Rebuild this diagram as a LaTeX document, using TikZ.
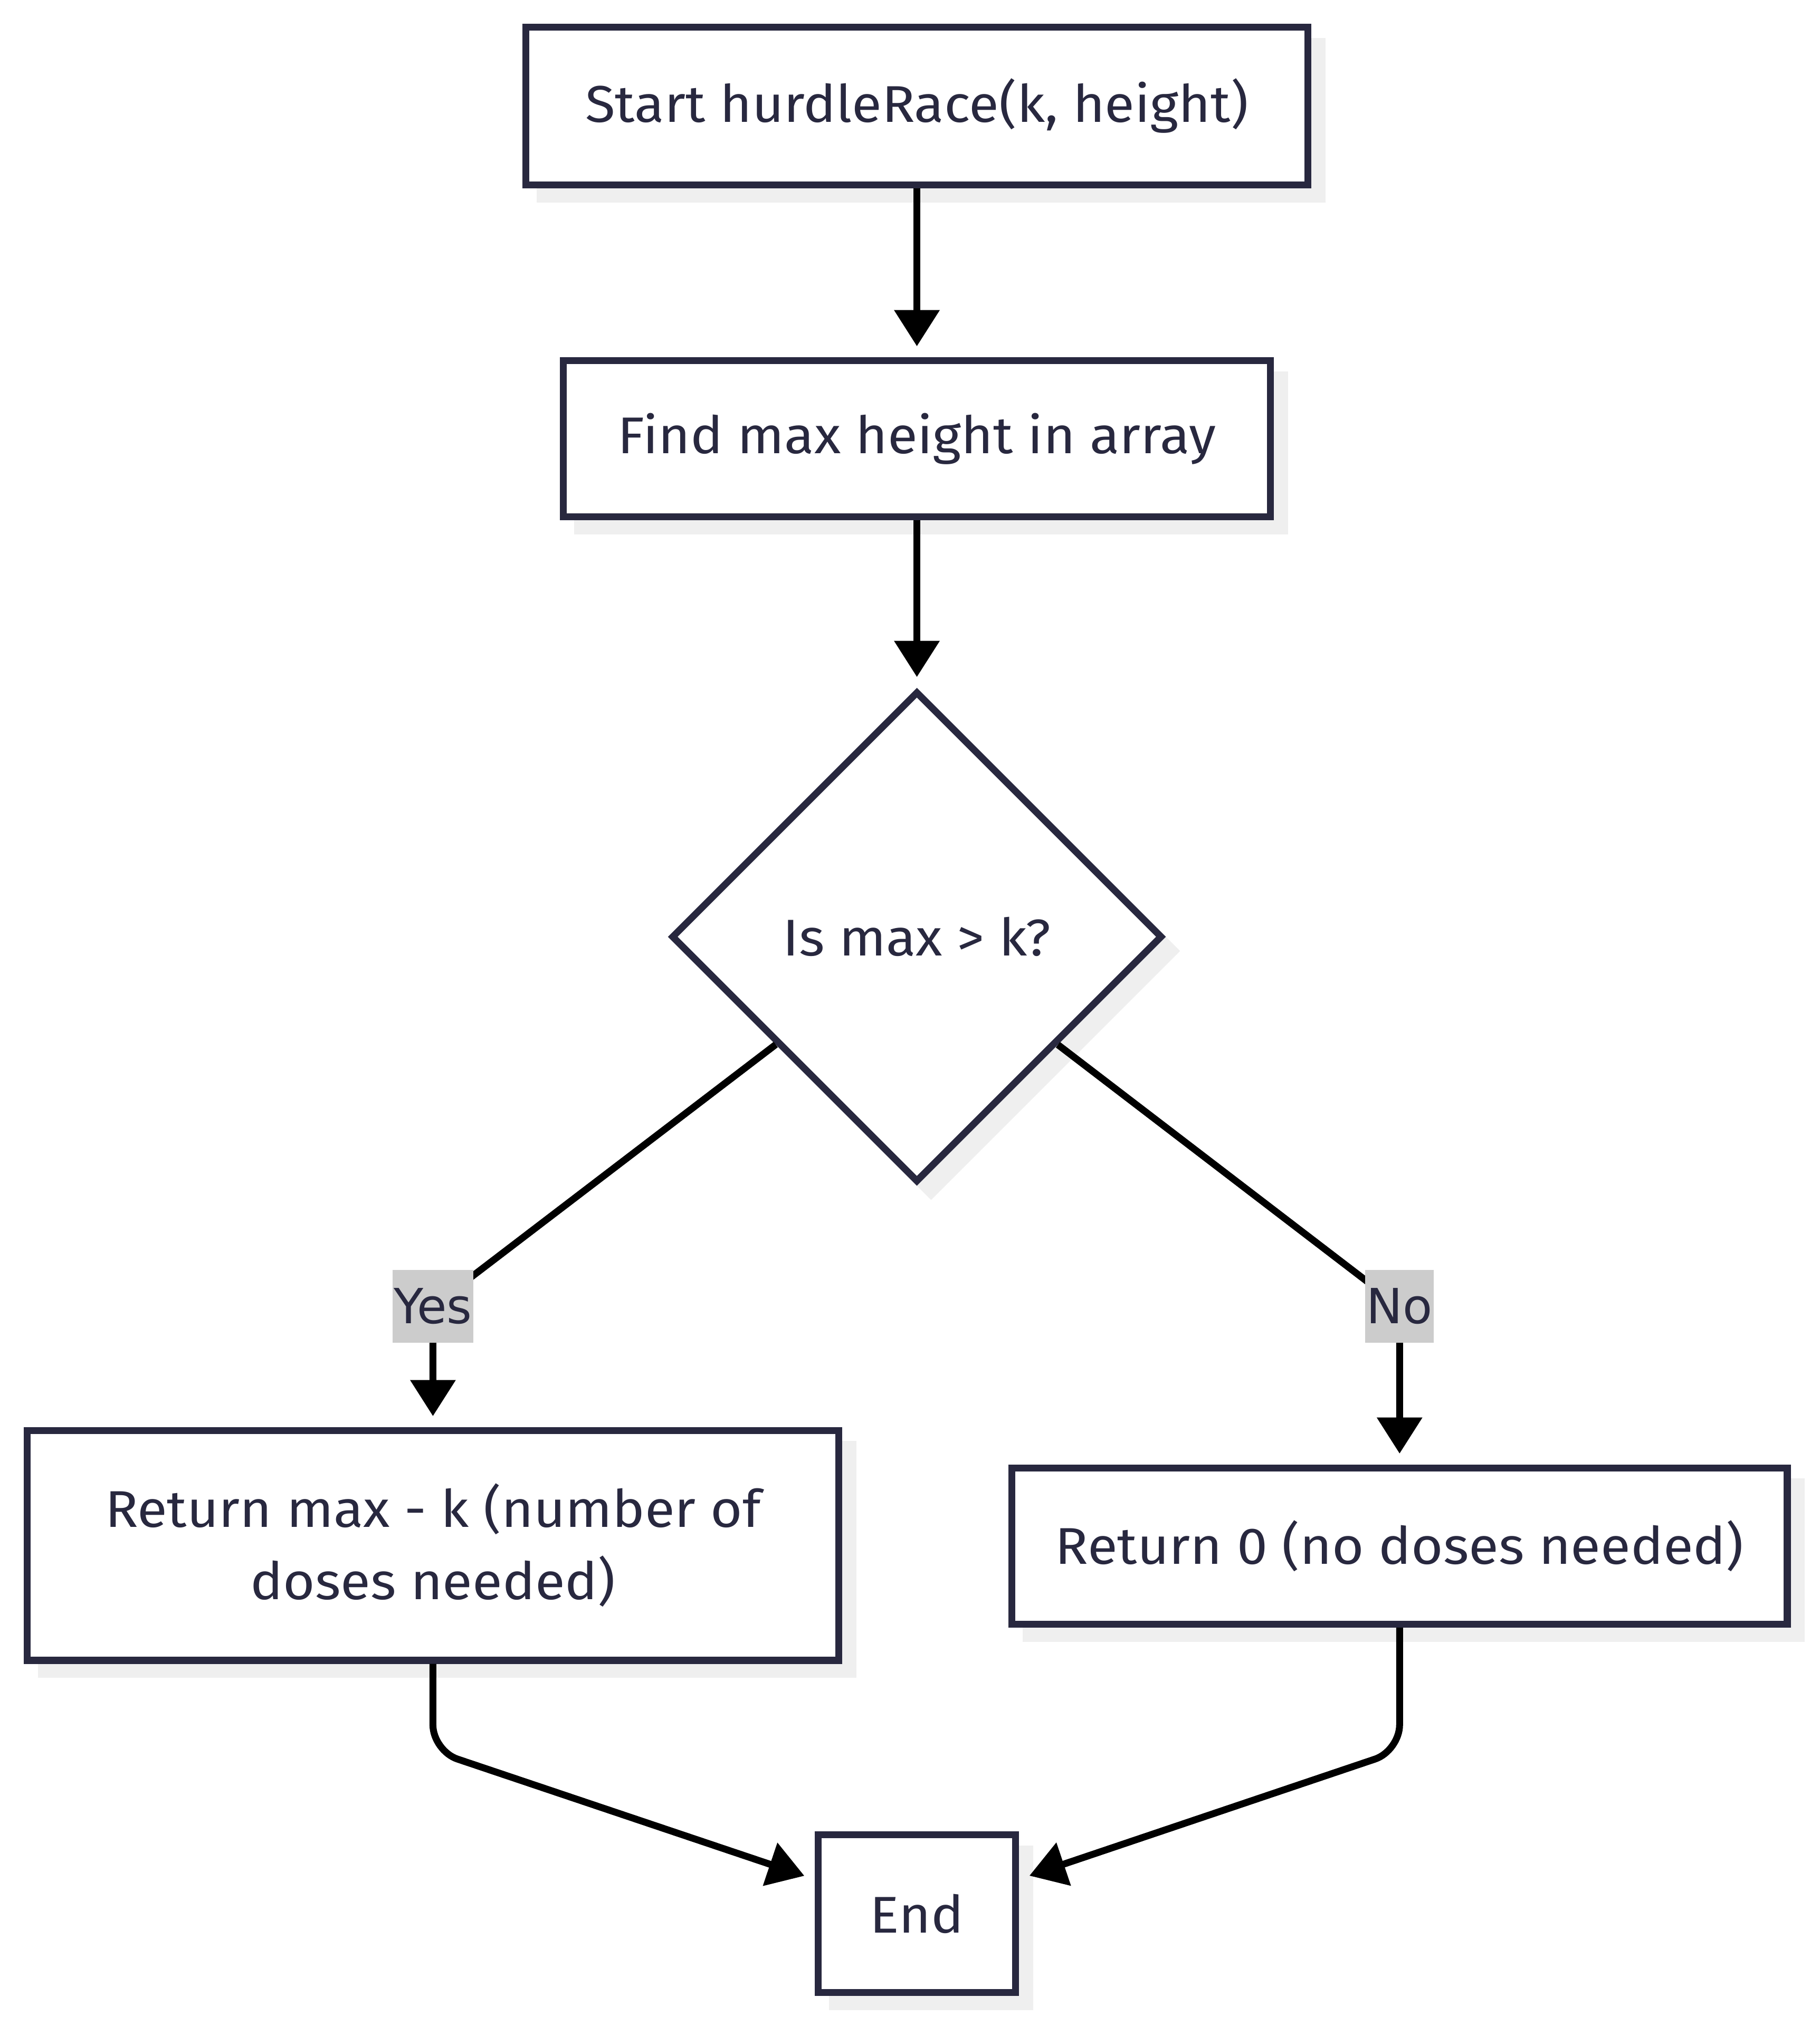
\documentclass[tikz,border=0pt]{standalone}
\usepackage{fontspec}
\setmainfont{Fira Sans}[FakeStretch=1.06]
\newfontfamily\labelfont{DejaVu Sans}
\usetikzlibrary{shapes.geometric, arrows.meta, shadows, positioning}
\definecolor{inkblue}{HTML}{28283F}
\definecolor{shadowgray}{HTML}{EFEFEF}
\definecolor{labelgray}{HTML}{CCCCCC}

\tikzset{
  box/.style={draw=inkblue, fill=white, line width=3.2pt, text=inkblue, inner sep=0pt,
    font=\fontsize{24}{33.6}\selectfont,
    drop shadow={shadow xshift=6.6pt, shadow yshift=-6.6pt, fill=shadowgray, draw=shadowgray, line width=3.2pt, opacity=1}},
  decision/.style={box, diamond, aspect=1, minimum size=228pt},
  flow/.style={draw=black, line width=3.2pt, -{Triangle[length=16.8pt, width=20.4pt]}, shorten >=5pt},
  edgelabel/.style={fill=labelgray, text=inkblue, inner xsep=0.6pt, inner ysep=0pt, minimum height=33.6pt,
    font=\labelfont\fontsize{22.5}{24}\selectfont}
}

\begin{document}
\begin{tikzpicture}[x=0.6pt, y=-0.6pt]
		\useasboundingbox (0,0) rectangle (1408,1568);
		% boxes
		\node[box, minimum width=363pt, minimum height=73.2pt] (start) at (709.5,82) {Start hurdleRace(k, height)};
		\node[box, minimum width=328.2pt, minimum height=72.6pt] (find) at (709.5,339.5) {Find max height in array};
		\node[decision] (dec) at (709.5,725) {Is max > k?};
		\node[box, minimum width=376.8pt, minimum height=106.8pt, align=center] (ret1) at (335,1196) {Return max - k (number of\\doses needed)};
		\node[box, minimum width=360pt, minimum height=72.6pt] (ret0) at (1083,1196.5) {Return 0 (no doses needed)};
		\node[box, minimum width=91.8pt, minimum height=73.2pt] (fin) at (709.5,1481) {End};
		
		% bends
		\coordinate (yesbend) at (335,1011);
		\coordinate (nobend) at (1083,1011);
		\coordinate (lbend) at (335,1355);
		\coordinate (rbend) at (1083,1355);
		
		% connectors
		\draw[flow] (start) -- (find);
		\draw[flow] (find) -- (dec);
		\draw[flow] (dec) -- (yesbend) -- (ret1);
		\draw[flow] (dec) -- (nobend) -- (ret0);
		\draw[flow, rounded corners=12pt] (ret1) -- (lbend) -- (fin);
		\draw[flow, rounded corners=12pt] (ret0) -- (rbend) -- (fin);
		
		\node[edgelabel] (yes) at (yesbend) {Yes};
		\node[edgelabel] (no) at (nobend) {No};
\end{tikzpicture}
\end{document}
